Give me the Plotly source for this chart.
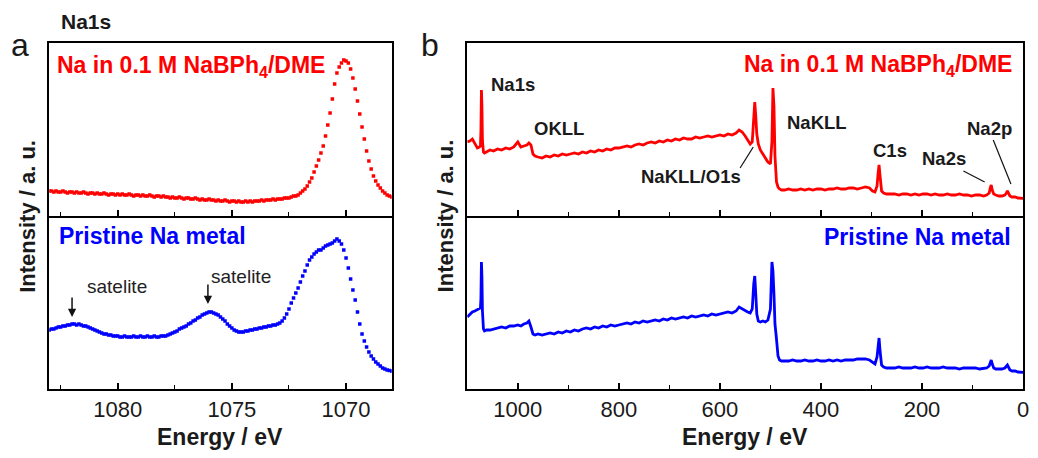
import plotly.graph_objects as go

# ---------------- data: Na1s high resolution (panel a) ----------------
na1s_energy = [round(1083.0 - 0.1 * i, 1) for i in range(151)]
na1s_treated = [
    25, 25, 24, 25, 24, 24, 25, 24, 23, 24, 24,
    23, 24, 23, 23, 24, 23, 22, 23, 23, 22,
    23, 22, 22, 23, 22, 21, 22, 22, 21, 22,
    21, 22, 21, 21, 22, 21, 20, 21, 21, 20,
    21, 20, 20, 21, 20, 19, 20, 20, 19, 20,
    19, 19, 18, 19, 18, 18, 19, 18, 17, 18,
    18, 17, 17, 18, 17, 16, 17, 16, 16, 17,
    16, 16, 15, 16, 15, 15, 16, 15, 14, 15,
    15, 14, 15, 14, 14, 15, 14, 15, 14, 15,
    15, 15, 16, 15, 16, 16, 16, 17, 16, 17,
    17, 17, 18, 18, 18, 19, 20, 20, 21, 23,
    25, 27, 30, 34, 38, 44, 50, 56, 63, 70,
    80, 91, 103, 117, 132, 143, 149, 153, 156, 155,
    153, 147, 138, 127, 115, 102, 89, 77, 65, 55,
    47, 40, 35, 31, 28, 25, 23, 21, 20, 19,
]
na1s_pristine = [
    59, 60, 60, 61, 62, 62, 63, 63, 64, 64, 65,
    65, 64, 65, 64, 63, 63, 62, 61, 60, 59,
    58, 57, 56, 55, 55, 54, 54, 53, 53, 53,
    52, 52, 53, 52, 52, 52, 53, 52, 52, 53,
    52, 52, 53, 52, 52, 53, 52, 52, 53, 53,
    53, 54, 55, 56, 57, 58, 60, 61, 62, 63,
    65, 66, 68, 69, 71, 72, 74, 75, 76, 77,
    77, 76, 75, 74, 72, 70, 68, 65, 63, 61,
    59, 58, 57, 57, 57, 58, 58, 59, 59, 60,
    60, 61, 61, 62, 62, 63, 63, 64, 64, 65,
    66, 68, 71, 75, 80, 86, 91, 96, 101, 107,
    113, 118, 124, 129, 132, 135, 137, 139, 139, 141,
    143, 144, 145, 146, 148, 150, 148, 145, 139, 131,
    121, 110, 99, 89, 77, 65, 55, 48, 42, 37,
    33, 30, 27, 25, 23, 21, 20, 19, 18.5, 18,
]

# ---------------- data: survey spectra (panel b) ----------------
survey_energy = [
    1100, 1095, 1090, 1085, 1080, 1076, 1074, 1073, 1072, 1071, 1070, 1068, 1066, 1062,
    1055, 1048, 1040, 1032, 1024, 1016, 1008, 1000, 994, 988, 982, 978, 974, 970, 966, 960, 952,
    944, 936, 928, 920, 912, 904, 896, 888, 880, 872, 864, 856, 848, 840, 832, 824, 816, 808, 800,
    792, 784, 776, 768, 760, 752, 744, 736, 728, 720, 712, 704, 696, 688, 680, 672, 664, 656, 648, 640,
    632, 624, 616, 608, 600, 592, 584, 576, 568,
    562, 556, 550, 545, 540, 536, 533, 531, 529, 527, 524, 520, 515, 510, 505, 500, 497, 495, 493, 491,
    488, 485, 482, 478,
    472, 464, 456, 448, 440, 432, 424, 416, 408, 400, 392, 384, 376, 368, 360, 352, 344, 336, 328, 320,
    312, 304, 298, 293, 289, 287, 285, 283, 280, 276, 270,
    262, 254, 246, 238, 230, 222, 214, 206, 198, 190, 182, 174, 166, 158, 150, 142, 134, 126, 118, 110,
    102, 94, 86, 78,
    72, 67, 65, 63, 61, 58, 54, 48, 42, 36, 33, 31, 29, 26, 22, 16, 10, 5, 0,
]
survey_treated = [
    74, 75, 77, 73, 68, 69, 70, 85, 126, 110, 75, 64, 63, 64,
    66, 65, 67, 66, 68, 67, 69, 74, 69, 70, 71, 73, 71, 62, 60, 59, 58,
    60, 59, 61, 60, 62, 61, 62, 63, 62, 64, 63, 65, 64, 66, 65, 67, 66, 68, 68,
    69, 70, 69, 71, 72, 71, 73, 74, 73, 75, 74, 76, 75, 77, 76, 78, 77, 77, 79, 78,
    79, 80, 79, 80, 81, 80, 82, 81, 83,
    86, 84, 80, 76, 72, 74, 100, 114, 100, 82, 72, 66, 62, 58, 54, 52, 75, 128, 110, 60,
    34, 29, 27, 26,
    26, 27, 26, 26, 27, 26, 27, 26, 27, 27, 26, 27, 27, 28, 27, 27, 28, 28, 27, 28,
    29, 28, 25, 24, 30, 42, 51, 40, 25, 23, 22,
    22, 22, 21, 22, 22, 21, 22, 21, 22, 22, 21, 22, 21, 21, 22, 21, 21, 22, 21, 21,
    20, 21, 21, 20,
    21, 23, 28, 31, 26, 22, 21, 20, 20, 21, 23, 25, 23, 20, 19, 19, 18, 18, 17.7,
]
survey_pristine = [
    72, 75, 77, 78, 79, 80, 81, 90, 127, 112, 78, 60, 58, 59,
    59, 60, 61, 62, 61, 63, 63, 64, 63, 65, 66, 68, 62, 55, 54, 55, 54,
    55, 56, 55, 57, 56, 58, 57, 59, 58, 60, 61, 60, 62, 61, 63, 62, 64, 63, 64,
    65, 66, 65, 67, 66, 68, 67, 68, 69, 68, 70, 69, 71, 70, 71, 72, 71, 73, 72, 73,
    74, 73, 75, 74, 75, 76, 77, 76, 78,
    82, 80, 78, 77, 76, 80, 105, 113, 95, 75, 68, 67, 68, 67, 69, 80, 127, 118, 95, 65,
    50, 33, 29, 28,
    28, 28, 29, 28, 28, 29, 28, 28, 29, 28, 28, 29, 28, 29, 28, 29, 29, 29, 30, 30,
    30, 29, 27, 25, 32, 45, 51, 38, 24, 22, 21,
    21, 21, 22, 21, 21, 21, 22, 21, 21, 22, 21, 21, 21, 22, 21, 21, 21, 20, 21, 21,
    21, 21, 20, 21,
    21, 23, 27, 29, 25, 21, 20, 20, 20, 21, 23, 24, 22, 19, 18, 18, 17, 17, 16.7,
]
assert len(na1s_energy) == len(na1s_treated) == len(na1s_pristine)
assert len(survey_energy) == len(survey_treated) == len(survey_pristine)

peak_labels = ["Na1s", "OKLL", "NaKLL/O1s", "NaKLL", "C1s", "Na2s", "Na2p"]

RED = "#ff0000"
BLUE = "#0000ff"
FONT = "Liberation Sans, Arial, sans-serif"
W, H = 1038, 458

# pixel layout
LX0, LX1 = 49.5, 394
RX0, RX1 = 470, 1029
YT, YM, YB = 43, 216, 389

def px_x(p):
    return p / W

def px_y(p):
    return 1 - p / H

fig = go.Figure()
fig.add_trace(go.Scatter(x=na1s_energy, y=na1s_treated, mode="markers",
                         marker=dict(symbol="square", size=3.5, color=RED),
                         xaxis="x", yaxis="y", showlegend=False))
fig.add_trace(go.Scatter(x=na1s_energy, y=na1s_pristine, mode="markers",
                         marker=dict(symbol="square", size=3.5, color=BLUE),
                         xaxis="x2", yaxis="y2", showlegend=False))
fig.add_trace(go.Scatter(x=survey_energy, y=survey_treated, mode="lines",
                         line=dict(color=RED, width=2.8),
                         xaxis="x3", yaxis="y3", showlegend=False))
fig.add_trace(go.Scatter(x=survey_energy, y=survey_pristine, mode="lines",
                         line=dict(color=BLUE, width=2.8),
                         xaxis="x4", yaxis="y4", showlegend=False))

tickfont = dict(family=FONT, size=22, color="#1a1a1a")
def xax(domain, rng, anchor, dtick, minor_dtick, labels, mirror):
    return dict(domain=domain, range=rng, anchor=anchor, showline=True, mirror=mirror,
                linecolor="black", linewidth=1.5, ticks="inside", ticklen=6, tickwidth=1.5,
                tickcolor="black", tick0=0, dtick=dtick, showgrid=False, zeroline=False,
                showticklabels=labels, tickfont=tickfont,
                minor=dict(ticks="inside", ticklen=4, tickwidth=1.2, tickcolor="black",
                           dtick=minor_dtick, tick0=0, showgrid=False))

def yax(domain, anchor):
    return dict(domain=domain, range=[0, 173], anchor=anchor, showline=True, mirror=True,
                linecolor="black", linewidth=1.5, ticks="", showticklabels=False,
                showgrid=False, zeroline=False)

ldom = [px_x(LX0), px_x(LX1)]
rdom = [px_x(RX0), px_x(RX1)]
tdom = [px_y(YM), px_y(YT)]
bdom = [px_y(YB), px_y(YM)]

fig.update_layout(
    width=W, height=H, margin=dict(l=0, r=0, t=0, b=0),
    paper_bgcolor="white", plot_bgcolor="white",
    xaxis=xax(ldom, [1083, 1068], "y", 5, 2.5, False, True),
    yaxis=yax(tdom, "x"),
    xaxis2=xax(ldom, [1083, 1068], "y2", 5, 2.5, True, False),
    yaxis2=yax(bdom, "x2"),
    xaxis3=xax(rdom, [1100, 0], "y3", 200, 100, False, True),
    yaxis3=yax(tdom, "x3"),
    xaxis4=xax(rdom, [1100, 0], "y4", 200, 100, True, False),
    yaxis4=yax(bdom, "x4"),
)

ann = []
def ptext(text, x, y, size, color="#1a1a1a", xanchor="center", bold=True, angle=0):
    t = f"<b>{text}</b>" if bold else text
    ann.append(dict(text=t, x=px_x(x), y=px_y(y), xref="paper", yref="paper",
                    xanchor=xanchor, yanchor="middle", showarrow=False, textangle=angle,
                    font=dict(family=FONT, size=size, color=color)))

# panel letters and titles
ptext("a", 20, 45, 32, "#1a1a1a", bold=False)
ptext("b", 433, 45, 32, "#1a1a1a", bold=False)
ptext("Na1s", 59, 21, 21, xanchor="left")
ptext("Intensity / a. u.", 27, (YT + YB) / 2, 22, angle=-90)
ptext("Intensity / a. u.", 448, (YT + YB) / 2, 22, angle=-90)
ptext("Energy / eV", (LX0 + LX1) / 2, 437, 23)
ptext("Energy / eV", (RX0 + RX1) / 2, 437, 23)

# sample labels
ptext("Na in 0.1 M NaBPh<sub>4</sub>/DME", 55, 67, 23, RED, xanchor="left")
ptext("Pristine Na metal", 57, 236, 23, BLUE, xanchor="left")
ptext("Na in 0.1 M NaBPh<sub>4</sub>/DME", 1020, 65, 23, RED, xanchor="right")
ptext("Pristine Na metal", 1019, 237, 23, BLUE, xanchor="right")

# survey peak labels (left edge pixel, centre y pixel)
label_pos = [(492, 85), (535, 128), (643, 176), (790, 122), (876, 151), (925, 158), (971, 128)]
for name, (lx, ly) in zip(peak_labels, label_pos):
    ptext(name, lx, ly, 18.5, xanchor="left")

# satellite labels + arrows (panel a, bottom)
for (e_tip, i_tip, tx, ty) in [(1082.0, 72, 118, 286), (1076.05, 85, 242, 276)]:
    ptext("satelite", tx, ty, 19, "#222222", bold=False)
    ann.append(dict(x=e_tip, y=i_tip, xref="x2", yref="y2", ax=0, ay=-21,
                    showarrow=True, arrowhead=2, arrowsize=1.1, arrowwidth=1.5,
                    arrowcolor="#111111", text=""))

fig.update_layout(annotations=ann)

# leader lines for peak labels (data coordinates of panel b top)
leaders = [((560, 48), (534, 69)), ((118, 45), (76, 34)), ((59, 76), (24, 32))]
for (x0, y0), (x1, y1) in leaders:
    fig.add_shape(type="line", x0=x0, y0=y0, x1=x1, y1=y1, xref="x3", yref="y3",
                  line=dict(color="#111111", width=1.2))

fig.write_html("out.html")
